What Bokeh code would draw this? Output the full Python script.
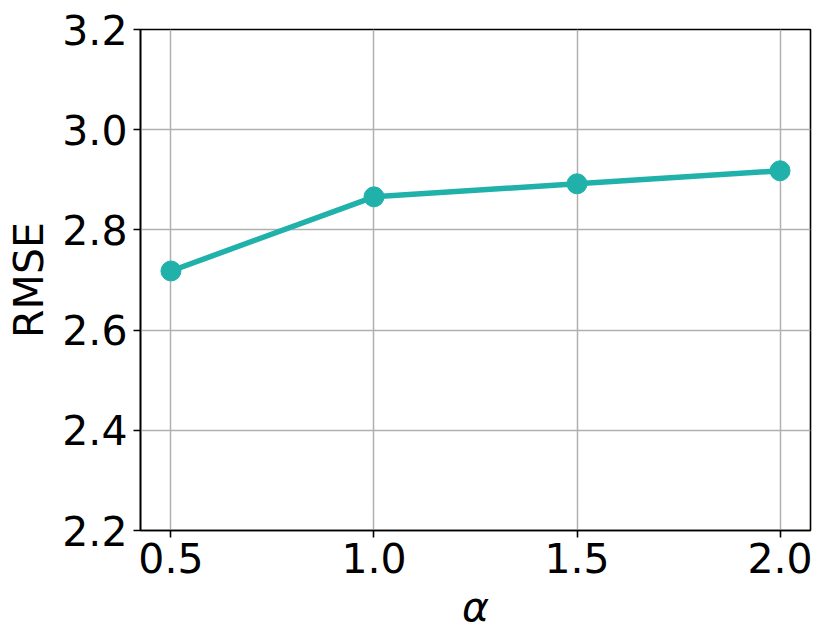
from bokeh.plotting import figure
from bokeh.models import FixedTicker, Range1d, NumeralTickFormatter
from bokeh.embed import file_html
from bokeh.resources import INLINE

alpha_vals = [0.5, 1.0, 1.5, 2.0]
rmse_vals = [2.718, 2.866, 2.892, 2.918]
x_ticks = [0.5, 1.0, 1.5, 2.0]
y_ticks = [2.2, 2.4, 2.6, 2.8, 3.0, 3.2]

COLOR = "#20B2AA"
FONT = "DejaVu Sans"
FS = "41px"

p = figure(width=823, height=636, output_backend="svg", toolbar_location=None,
           x_range=Range1d(0.425, 2.075), y_range=Range1d(2.2, 3.2),
           min_border_left=140, min_border_right=13, min_border_top=29, min_border_bottom=106)
p.background_fill_color = "white"
p.border_fill_color = "white"
p.outline_line_color = "black"
p.outline_line_width = 1.6
p.outline_line_alpha = 1.0

p.line(alpha_vals, rmse_vals, line_color=COLOR, line_width=5.5)
p.scatter(alpha_vals, rmse_vals, size=20, fill_color=COLOR, line_color=COLOR)

for ax in (p.xaxis[0], p.yaxis[0]):
    ax.major_label_text_font = FONT
    ax.major_label_text_font_size = FS
    ax.major_label_text_color = "black"
    ax.axis_label_text_font = FONT
    ax.axis_label_text_font_size = FS
    ax.axis_label_text_color = "black"
    ax.axis_line_color = "black"
    ax.axis_line_width = 1.6
    ax.major_tick_line_color = "black"
    ax.major_tick_line_width = 1.6
    ax.major_tick_out = 7
    ax.major_tick_in = 0
    ax.minor_tick_line_color = None
    ax.formatter = NumeralTickFormatter(format="0.0")

p.xaxis[0].ticker = FixedTicker(ticks=x_ticks)
p.yaxis[0].ticker = FixedTicker(ticks=y_ticks)
p.xaxis[0].axis_label = "α"
p.xaxis[0].axis_label_text_font_style = "italic"
p.xaxis[0].major_label_standoff = 5
p.xaxis[0].axis_label_standoff = 7
p.yaxis[0].axis_label = "RMSE"
p.yaxis[0].axis_label_text_font_style = "normal"
p.yaxis[0].major_label_standoff = 6
p.yaxis[0].axis_label_standoff = 6

p.xgrid.ticker = FixedTicker(ticks=x_ticks)
p.ygrid.ticker = FixedTicker(ticks=y_ticks)
for g in (p.xgrid[0], p.ygrid[0]):
    g.grid_line_color = "#b0b0b0"
    g.grid_line_width = 1.5
    g.grid_line_alpha = 1.0

open("out.html", "w").write(file_html(p, INLINE))
